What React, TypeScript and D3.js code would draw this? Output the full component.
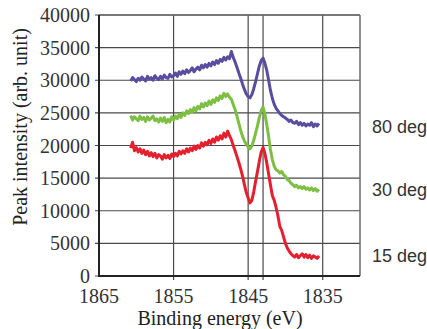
import React from "react";
import * as d3 from "d3";

// binding energy grid, 0.25 eV steps from 1860.75 down to 1835.5
const energies: number[] = d3.range(0, 102).map(i => 1860.75 - 0.25 * i);

const deg80 = [
  29900, 30400, 30100, 29800, 30300, 30000, 30500, 30200, 29900, 30600, 30200, 30400,
  30000, 30700, 30300, 30100, 30600, 30200, 30800, 30400, 30300, 30900, 30500, 30700,
  31100, 30600, 31300, 30900, 31400, 31000, 31600, 31200, 31500, 31900, 31300, 31700,
  32000, 31600, 32300, 31900, 32400, 32000, 32600, 32200, 32800, 32400, 33000, 32600,
  33200, 32900, 33500, 33100, 33600, 33300, 34400, 33500, 32800, 32000, 31100, 30300,
  29400, 28600, 27900, 27500, 27300, 27800, 28700, 29800, 31000, 32200, 33000, 33400,
  32600, 31500, 30000, 28400, 27200, 26300, 25700, 25300, 24900, 24600, 24400, 24200,
  24000, 23700, 23900, 23500, 23400, 23700, 23200, 23500, 23100, 23400, 23000, 23300,
  23100, 23500, 22900, 23300, 23000, 23400,
];

const deg30 = [
  24600, 23900, 24400, 24100, 23800, 24500, 24000, 24300, 23700, 24400, 23900, 24200,
  24500, 23800, 24100, 23600, 24200, 23700, 24300, 23500, 24000, 23600, 24400, 23900,
  24500, 24100, 24800, 24300, 25000, 24600, 25300, 24900, 25500, 25100, 25800, 25300,
  26000, 25600, 26400, 25900, 26500, 26100, 26800, 26300, 27000, 26600, 27300, 26900,
  27600, 27200, 28000, 27500, 27900, 27400, 27100, 26300, 25500, 24500, 23400, 22300,
  21400, 20700, 20200, 19800, 19500, 19900, 20800, 21900, 23000, 24300, 25300, 25900,
  24800, 23200, 21300, 19300, 17800, 16800, 16300, 16100, 15800, 16000, 15500, 15300,
  14800, 14600, 14200, 14000, 13700, 13900, 13500, 13700, 13400, 13700, 13300, 13500,
  13200, 13500, 13100, 13400, 13000, 13300,
];

const deg15 = [
  19600, 20500, 19200, 19700, 19000, 19500, 18800, 19300, 18600, 19100, 18400, 18900,
  18300, 18800, 18100, 18600, 18400, 17900, 18600, 18100, 18500, 18000, 18700, 18300,
  18800, 18400, 19100, 18700, 19200, 18800, 19500, 19000, 19600, 19200, 19900, 19400,
  20000, 19600, 20400, 19900, 20500, 20100, 20800, 20300, 21000, 20500, 21300, 20800,
  21500, 21000, 21900, 21300, 22200, 21500, 20900, 20000, 19200, 18300, 17400, 16400,
  15300, 14000, 12800, 12000, 11200, 11600, 12900, 14500, 16000, 17600, 19000, 19700,
  18800, 17300, 15600, 13900, 12300, 11600, 10500, 9200, 7600, 7000, 6000, 5000,
  4300, 3800, 3400, 3100, 2900, 3300, 2800, 3100, 3400, 2900, 3300, 2800,
  3200, 2700, 3100, 2900, 2700, 3100,
];

const seriesNames = ["80 deg", "30 deg", "15 deg"];
const seriesColors = ["#5a4c9f", "#7cbf42", "#e5202e"];
const seriesValues = [deg80, deg30, deg15];
const labelValues = [23000, 13300, 3200];

const xTicks = [1865, 1855, 1845, 1835];
const xGrid = [1855, 1845, 1843, 1835];
const yTicks = [0, 5000, 10000, 15000, 20000, 25000, 30000, 35000, 40000];

export default function App() {
  const width = 427;
  const height = 329;
  const m = { left: 99, top: 15, right: 360, bottom: 276 };

  const x = d3.scaleLinear().domain([1865, 1830]).range([m.left, m.right]);
  const y = d3.scaleLinear().domain([0, 40000]).range([m.bottom, m.top]);

  const line = d3
    .line<number>()
    .x((_, i) => x(energies[i]))
    .y(d => y(d));

  const serif = "'Liberation Serif', 'Times New Roman', serif";
  const sans = "'Liberation Sans', Arial, sans-serif";

  return (
    <svg
      width={width}
      height={height}
      style={{ position: "absolute", left: 0, top: 0, background: "#fff" }}
    >
      {/* grid */}
      {yTicks.map(t => (
        <line key={"gy" + t} x1={m.left - 4} x2={m.right} y1={y(t)} y2={y(t)} stroke="#4a4a4a" strokeWidth={1.2} />
      ))}
      {xGrid.map(t => (
        <line key={"gx" + t} x1={x(t)} x2={x(t)} y1={m.top} y2={m.bottom + 4} stroke="#4a4a4a" strokeWidth={1.2} />
      ))}
      <line x1={m.right} x2={m.right} y1={m.top} y2={m.bottom} stroke="#6a6a6a" strokeWidth={1.5} />
      <line x1={m.left} x2={m.right} y1={m.top} y2={m.top} stroke="#6a6a6a" strokeWidth={1.5} />

      {/* data */}
      {seriesValues.map((vals, k) => (
        <path
          key={seriesNames[k]}
          d={line(vals) || ""}
          fill="none"
          stroke={seriesColors[k]}
          strokeWidth={3}
          strokeLinejoin="round"
        />
      ))}

      {/* axes */}
      <line x1={m.left} x2={m.left} y1={m.top} y2={m.bottom + 1} stroke="#222" strokeWidth={2} />
      <line x1={m.left - 1} x2={m.right} y1={m.bottom} y2={m.bottom} stroke="#222" strokeWidth={2} />

      {yTicks.map(t => (
        <text key={"ty" + t} x={90} y={y(t) + 7} textAnchor="end" fontFamily={serif} fontSize={20} fill="#333">
          {t}
        </text>
      ))}
      {xTicks.map(t => (
        <text key={"tx" + t} x={x(t)} y={303} textAnchor="middle" fontFamily={serif} fontSize={20} fill="#333">
          {t}
        </text>
      ))}

      <text x={220} y={325} textAnchor="middle" fontFamily={serif} fontSize={20} fill="#222">
        Binding energy (eV)
      </text>
      <text
        transform={`translate(27,127) rotate(-90)`}
        textAnchor="middle"
        fontFamily={serif}
        fontSize={20}
        fill="#222"
      >
        Peak intensity (arb. unit)
      </text>

      {seriesNames.map((n, k) => (
        <text key={"lab" + n} x={372} y={y(labelValues[k]) + 7} fontFamily={sans} fontSize={18} fill="#333">
          {n}
        </text>
      ))}
    </svg>
  );
}
